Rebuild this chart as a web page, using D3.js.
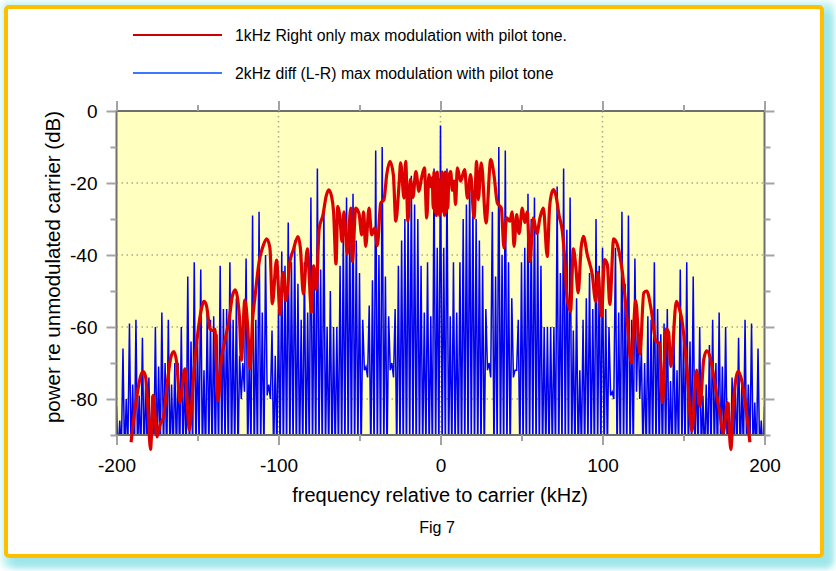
<!DOCTYPE html>
<html><head><meta charset="utf-8">
<script src="https://cdn.jsdelivr.net/npm/d3@7"></script>
<style>
html,body{margin:0;padding:0;background:#fff;}
svg{display:block;}
</style></head><body>
<svg id="chart" width="836" height="571"></svg>
<script>
// ---------- data ----------
const xTicksMajor = [-200, -100, 0, 100, 200];
const xTicksMinor = [-150, -50, 50, 150];
const yTicksMajor = [0, -20, -40, -60, -80];
const yTicksMinor = [-10, -30, -50, -70, -90];
const xGrid = [-100, 0, 100];
const yGrid = [-20, -40, -60, -80];
const seriesNames = ["1kHz Right only max modulation with pilot tone.",
                     "2kHz diff (L-R) max modulation with pilot tone"];
const xTitle = "frequency relative to carrier (kHz)";
const yTitle = "power re unmodulated carrier (dB)";
const figLabel = "Fig 7";

// blue: spectral line peaks every 2 kHz from -200 to 200 kHz (dB)
const blueStartKHz = -200;
const bluePeakDb = [
 -82,-86,-66,-80,-59,-76,-58,-79,-63,-75,
 -74,-79,-60,-71,-56,-70,-58,-76,-70,-70,
 -60,-73,-46,-64,-42,-64,-44,-72,-55,-58,
 -57,-62,-43,-55,-55,-42,-58,-52,-68,-70,
 -41,-66,-29,-58,-28,-56,-40,-76,-61,-68,
 -55,-39,-43,-31,-42,-36,-48,-58,-42,-56,
 -24,-43,-16,-44,-26,-60,-50,-60,-60,-43,
 -33,-24,-30,-23,-36,-45,-58,-71,-54,-47,
 -11,-40,-10,-46,-57,-70,-55,-43,-36,-30,
 -26,-18,-26,-30,-43,-56,-42,-57,-16,-38,
 -4,
 -38,-16,-57,-42,-56,-42,-30,-26,-18,-25,
 -30,-36,-43,-55,-70,-28,-46,-10,-40,-11,
 -42,-52,-72,-58,-42,-38,-23,-30,-24,-33,
 -43,-60,-60,-60,-60,-21,-45,-16,-33,-24,
 -61,-52,-72,-58,-52,-45,-55,-30,-43,-38,
 -55,-60,-78,-38,-56,-28,-48,-29,-58,-41,
 -58,-66,-70,-57,-58,-42,-55,-62,-59,-55,
 -75,-58,-72,-44,-63,-42,-64,-46,-72,-60,
 -79,-76,-65,-58,-70,-56,-71,-60,-81,-74,
 -76,-63,-76,-58,-76,-59,-81,-66,-86,-82
];
// blue: minima between the lines (odd kHz, -199 .. 199) (dB)
const blueTroughDb = [
 -96,-95,-97,-94,-96,-98,-95,-96,-97,-95,
 -96,-97,-95,-96,-94,-97,-96,-95,-96,-97,
 -95,-96,-97,-95,-96,-94,-96,-97,-95,-96,
 -97,-95,-96,-94,-96,-97,-95,-96,-80,-78,
 -96,-95,-97,-96,-95,-96,-79,-80,-96,-95,
 -96,-97,-95,-96,-94,-96,-97,-95,-96,-95,
 -96,-97,-95,-96,-95,-96,-97,-96,-95,-96,
 -96,-95,-97,-96,-95,-96,-72,-74,-96,-95,
 -96,-97,-95,-96,-72,-74,-96,-95,-96,-97,
 -95,-96,-97,-95,-96,-94,-96,-97,-95,-96,
 -96,-95,-97,-96,-95,-96,-97,-95,-96,-94,
 -96,-97,-95,-96,-72,-74,-96,-95,-96,-97,
 -95,-96,-74,-72,-96,-95,-97,-96,-95,-96,
 -96,-97,-95,-96,-95,-96,-97,-95,-96,-97,
 -95,-96,-97,-95,-96,-94,-96,-97,-95,-96,
 -96,-95,-79,-80,-96,-97,-95,-96,-94,-96,
 -78,-80,-96,-95,-97,-96,-95,-96,-97,-95,
 -96,-97,-95,-96,-94,-96,-97,-95,-96,-95,
 -96,-97,-95,-96,-95,-97,-96,-95,-96,-97,
 -95,-96,-97,-95,-96,-94,-96,-97,-95,-96
];

// red: 1 kHz right-only spectrum envelope
const redKHz = [
 -191,-189.5,-187,-185,-183.4,-182,-180.5,-179,-177.3,-175,-173,-171,-168.5,-166.5,-164.6,-162.8,-160.8,-157.8,-155,-152.5,
 -150.5,-148,-146,-144.5,-142.3,-140.5,-139.3,-137.3,-135.5,-133,-130.5,-128.5,-126.7,-125,-124,-122.9,-120.8,-119,-117.6,-116,
 -114.5,-112,-109.5,-107.3,-105.3,-103.8,-101.2,-99,-97.3,-95.4,-93,-90.8,-88,-86.5,-84.7,-82.2,-79.6,-78.3,-76.7,-74.9,
 -72.6,-70.5,-69,-67.2,-66,-64.5,-63.4,-62.2,-60.8,-59.6,-57.5,-55.4,-54.4,-52.3,-50.3,-48.6,-47.5,-46.2,-44.1,-42.5,
 -40.6,-39,-36.9,-34.9,-33.2,-31.2,-29.1,-27.6,-25.6,-24.6,-22.5,-21.5,-20.1,-18.6,-17,-15.2,-13.3,-11.9,-9.9,-8.5,
 -7.1,-6,-5.1,-4.5,-4,-3.5,-3,-2.5,-2,-1.5,-1,-0.5,0,0.5,1,1.5,2,2.5,3,3.5,
 4,4.5,5.2,6.3,7.3,8.3,9.3,10.4,12.4,14.9,16.6,18.6,20.7,22.3,23.3,25.2,28.1,31,33,35.1,
 37.5,39.2,40.8,42.9,44.2,45.4,47,48.5,50.5,52,53.5,55.2,57.3,59.5,61.4,63.5,65.9,67.3,68.4,69.8,
 71.5,73.1,75.2,76.8,77.9,80.3,82,83.4,85,86.8,88.2,90.6,93.7,95.8,97.2,99.3,101.3,103,104.5,106.9,
 109.1,112.2,115.2,117.8,120.5,123.1,125.5,127.3,130,133,135.2,137,139.4,140.8,142.2,145.6,147.5,149,152.2,155.2,
 158.1,160.2,162.5,164.3,166.5,168.6,170.5,172.5,174.5,177.2,179.2,181,183.8,186,187.5,189.5,191
];
const redDb = [
 -92,-86,-78,-73.5,-72.4,-74,-83,-94,-79,-90.5,-87,-85,-75,-68.5,-66.8,-70,-81,-71.6,-88.5,-74,
 -64.5,-56,-52.9,-54,-60.5,-61,-60.6,-80.5,-70,-63.6,-58,-51.5,-49.7,-53,-58,-69.2,-52.5,-60,-71.6,-58,
 -51.6,-42,-37.5,-35.5,-38,-53.5,-41.4,-56.5,-44.8,-52.7,-42,-38.5,-34.9,-38,-50.8,-38.3,-55.9,-43,-49.6,-32.7,
 -29,-23.5,-21.9,-23.8,-28,-42.5,-26.5,-29,-36.2,-28,-39.7,-27,-41.8,-27,-28.5,-34.4,-28,-37.6,-27,-34.4,
 -32.5,-37.4,-25.6,-24.6,-17.7,-14,-17.7,-30.6,-20.5,-14.4,-24.2,-14,-30.6,-19,-24,-16.8,-22.3,-19.1,-15.8,-29.7,
 -17.7,-21,-18.6,-27,-17,-28,-19,-29,-17,-27,-19,-29,-20,-28,-17,-27,-18,-29,-17,-28,
 -19,-27,-18,-16.8,-22,-19.5,-26,-15.8,-19.5,-16.3,-24.2,-17.7,-29.7,-14,-24.6,-14.4,-31.1,-13.5,-17.7,-25.6,
 -26.9,-38,-29.7,-30.6,-28,-37.6,-28.8,-34,-27,-31,-28,-41.8,-29.7,-34,-29.7,-27,-40.4,-27,-23.2,-21.8,
 -24,-28.8,-33.4,-42,-51,-55.6,-38.3,-42.7,-50.5,-38,-34.8,-39.9,-45.5,-52.9,-44.8,-57,-41.3,-42.7,-53.7,-35.5,
 -37.1,-44.5,-58,-70,-52.7,-67.5,-50.5,-50,-55,-64,-64.5,-81,-60.5,-61.5,-71,-52.9,-55,-58,-72,-89,
 -72,-82,-69,-66.6,-68.5,-73.5,-79,-84,-89.5,-81,-94,-80,-72.3,-75,-79,-86,-92
];

// ---------- drawing ----------
const FONT = "'Liberation Sans', Arial, Helvetica, sans-serif";
const svg = d3.select("#chart").attr("font-family", FONT);
const x = d3.scaleLinear().domain([-200, 200]).range([116.5, 764.5]);
const y = d3.scaleLinear().domain([-90, 0]).range([435, 111]);

const defs = svg.append("defs");
const f = defs.append("filter").attr("id", "blur").attr("x", "-5%").attr("y", "-5%").attr("width", "110%").attr("height", "110%");
f.append("feGaussianBlur").attr("stdDeviation", 3);
defs.append("clipPath").attr("id", "plotClip").append("rect")
  .attr("x", x(-200)).attr("y", y(0)).attr("width", x(200) - x(-200)).attr("height", y(-90) - y(0));
defs.append("clipPath").attr("id", "redClip").append("rect")
  .attr("x", x(-200)).attr("y", y(0)).attr("width", x(200) - x(-200)).attr("height", y(-90) - y(0) + 25);

// frame with cyan glow
svg.append("rect").attr("x", 2).attr("y", 2).attr("width", 832).attr("height", 566)
  .attr("rx", 6).attr("fill", "#bff2f2").attr("filter", "url(#blur)");
svg.append("rect").attr("x", 10).attr("y", 11).attr("width", 822).attr("height", 556)
  .attr("rx", 6).attr("fill", "#9ee6ea").attr("filter", "url(#blur)");
svg.append("rect").attr("x", 6).attr("y", 7).attr("width", 816).attr("height", 549)
  .attr("rx", 3).attr("fill", "#fff").attr("stroke", "#ffbe00").attr("stroke-width", 4);

// plot background
svg.append("rect").attr("x", x(-200)).attr("y", y(0))
  .attr("width", x(200) - x(-200)).attr("height", y(-90) - y(0)).attr("fill", "#ffffc0");

// grid
const grid = svg.append("g").attr("stroke", "#a9a98f").attr("stroke-width", 1.5).attr("stroke-dasharray", "1.5,3.5");
grid.selectAll("line.v").data(xGrid).join("line").attr("class", "v")
  .attr("x1", d => x(d)).attr("x2", d => x(d)).attr("y1", y(0)).attr("y2", y(-90));
grid.selectAll("line.h").data(yGrid).join("line").attr("class", "h")
  .attr("x1", x(-200)).attr("x2", x(200)).attr("y1", d => y(d)).attr("y2", d => y(d));

// blue series
const bluePts = [];
bluePeakDb.forEach((v, i) => {
  bluePts.push([blueStartKHz + 2 * i, v]);
  if (i < blueTroughDb.length) bluePts.push([blueStartKHz + 1 + 2 * i, blueTroughDb[i]]);
});
const lineLin = d3.line().x(d => x(d[0])).y(d => y(d[1]));
svg.append("path").datum(bluePts).attr("clip-path", "url(#plotClip)")
  .attr("d", lineLin).attr("fill", "none").attr("stroke", "#0000f2")
  .attr("stroke-width", 1.5).attr("stroke-linejoin", "miter");

// plot box
svg.append("rect").attr("x", x(-200)).attr("y", y(0))
  .attr("width", x(200) - x(-200)).attr("height", y(-90) - y(0))
  .attr("fill", "none").attr("stroke", "#6f6f6f").attr("stroke-width", 2);

// axes
const fmt = d => String(d);
function styleAxis(g) {
  g.attr("font-family", FONT).attr("font-size", 19);
  g.select(".domain").remove();
  g.selectAll(".tick line").attr("stroke", "#a3a3a3").attr("stroke-width", 2);
  g.selectAll(".tick text").attr("fill", "#000");
}
svg.append("g").attr("transform", `translate(0,${y(-90)})`)
  .call(d3.axisBottom(x).tickValues(xTicksMajor).tickSize(10).tickPadding(14).tickFormat(fmt)).call(styleAxis);
svg.append("g").attr("transform", `translate(0,${y(-90)})`)
  .call(d3.axisBottom(x).tickValues(xTicksMinor).tickSize(6).tickFormat("")).call(styleAxis);
svg.append("g").attr("transform", `translate(0,${y(0)})`)
  .call(d3.axisTop(x).tickValues(xTicksMajor).tickSize(10).tickFormat("")).call(styleAxis);
svg.append("g").attr("transform", `translate(0,${y(0)})`)
  .call(d3.axisTop(x).tickValues(xTicksMinor).tickSize(6).tickFormat("")).call(styleAxis);
svg.append("g").attr("transform", `translate(${x(-200)},0)`)
  .call(d3.axisLeft(y).tickValues(yTicksMajor).tickSize(10).tickPadding(9).tickFormat(fmt)).call(styleAxis);
svg.append("g").attr("transform", `translate(${x(-200)},0)`)
  .call(d3.axisLeft(y).tickValues(yTicksMinor).tickSize(6).tickFormat("")).call(styleAxis);
svg.append("g").attr("transform", `translate(${x(200)},0)`)
  .call(d3.axisRight(y).tickValues(yTicksMajor).tickSize(10).tickFormat("")).call(styleAxis);
svg.append("g").attr("transform", `translate(${x(200)},0)`)
  .call(d3.axisRight(y).tickValues(yTicksMinor).tickSize(6).tickFormat("")).call(styleAxis);

// red series
const redPts = redKHz.map((k, i) => [k, redDb[i]]);
svg.append("path").datum(redPts).attr("clip-path", "url(#redClip)")
  .attr("d", d3.line().x(d => x(d[0])).y(d => y(d[1])).curve(d3.curveMonotoneX))
  .attr("fill", "none").attr("stroke", "#dd0000").attr("stroke-width", 3.2)
  .attr("stroke-linejoin", "round");

// legend
const legendY = [35, 73];
const legendColors = ["#cc0000", "#3a78ff"];
seriesNames.forEach((name, i) => {
  svg.append("line").attr("x1", 133).attr("x2", 222).attr("y1", legendY[i]).attr("y2", legendY[i])
    .attr("stroke", legendColors[i]).attr("stroke-width", 2);
  svg.append("text").attr("x", 235).attr("y", legendY[i] + 5.5).attr("font-size", 15.8)
    .attr("fill", "#000").text(name);
});

// titles
svg.append("text").attr("x", 440).attr("y", 502).attr("text-anchor", "middle")
  .attr("font-size", 20).attr("fill", "#000").text(xTitle);
svg.append("text").attr("transform", "translate(60,267) rotate(-90)").attr("text-anchor", "middle")
  .attr("font-size", 20.5).attr("fill", "#000").text(yTitle);
svg.append("text").attr("x", 437).attr("y", 533).attr("text-anchor", "middle")
  .attr("font-size", 16).attr("fill", "#000").text(figLabel);
</script>
</body></html>
